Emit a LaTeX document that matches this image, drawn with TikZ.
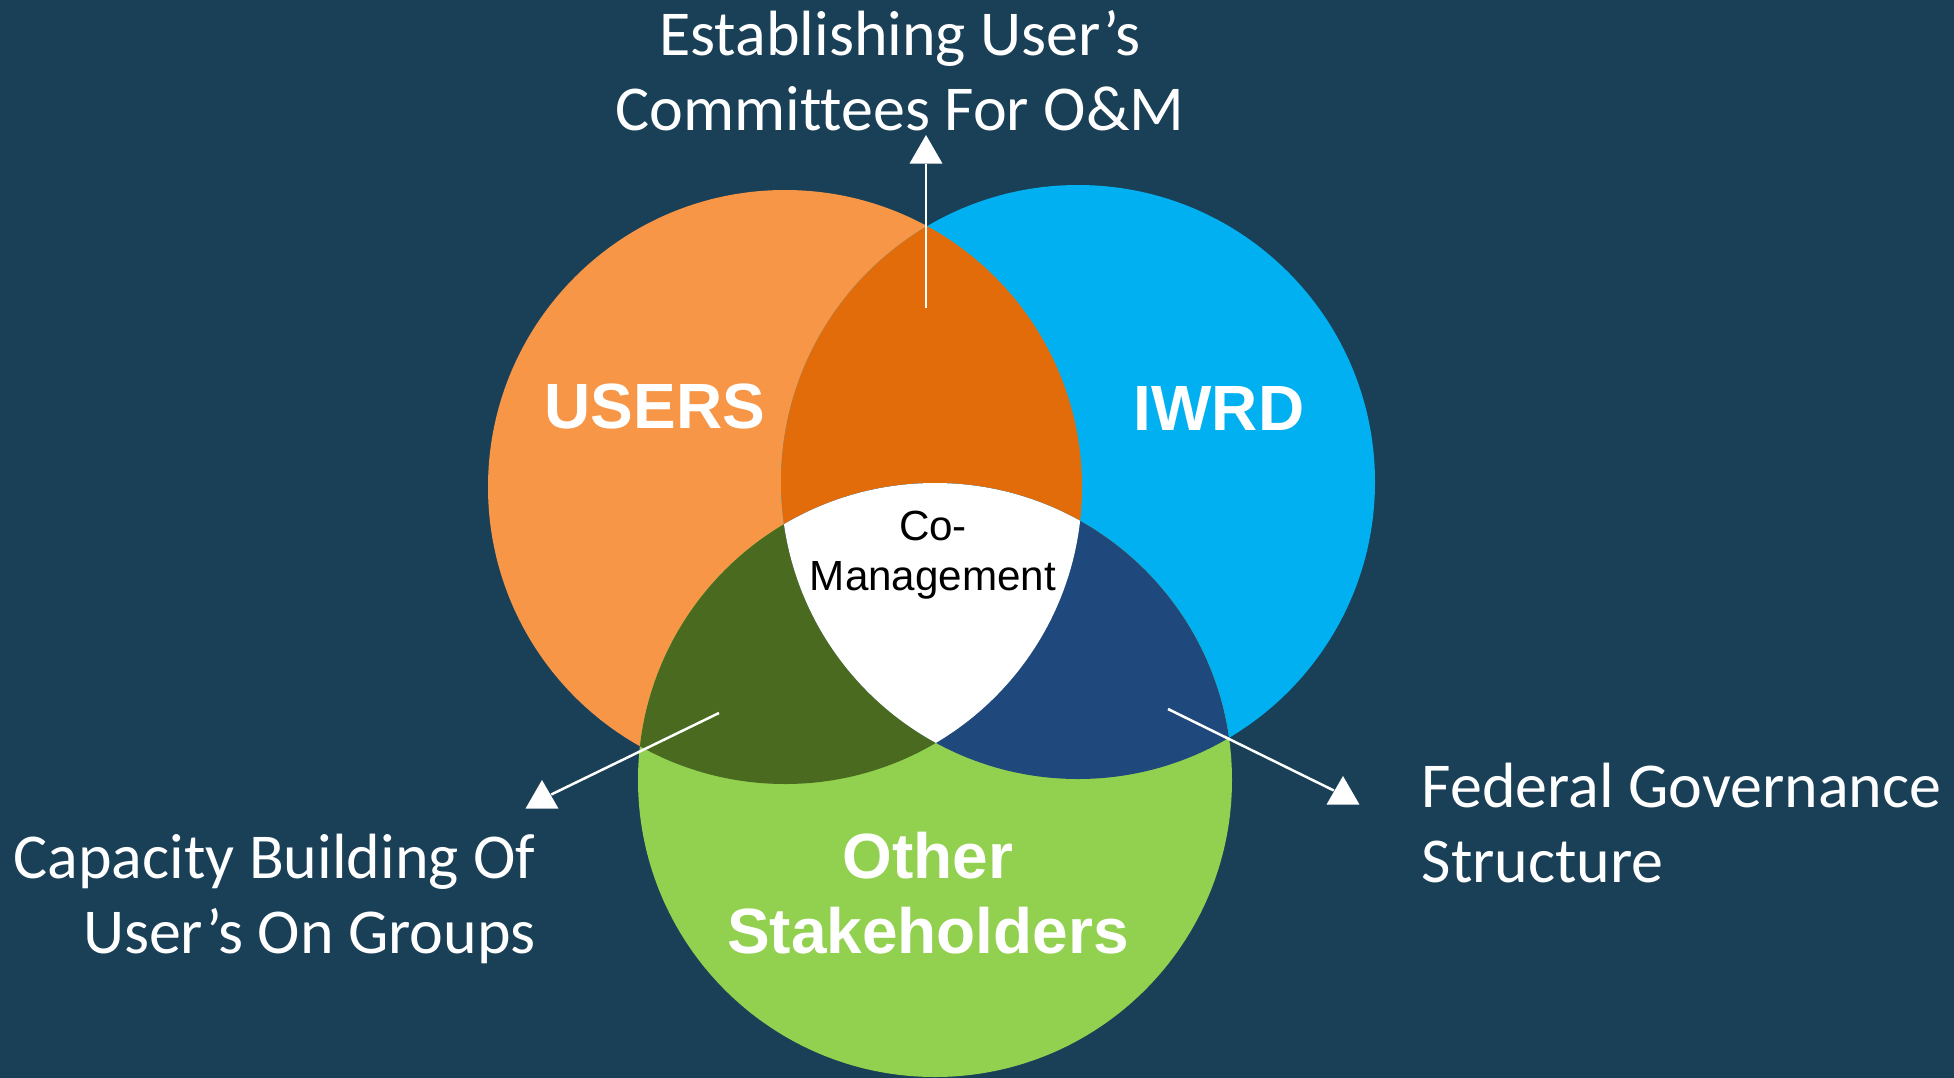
\documentclass[tikz,border=0pt]{standalone}
\usepackage{fontspec}
\setmainfont{Carlito}[Ligatures=NoCommon]
\setsansfont{Liberation Sans}
\usetikzlibrary{shapes.geometric}

\definecolor{slate}{HTML}{1A4057}
\definecolor{usersfill}{HTML}{F79646}
\definecolor{iwrdfill}{HTML}{00B0F0}
\definecolor{otherfill}{HTML}{92D050}
\definecolor{usersiwrd}{HTML}{E36C0A}
\definecolor{usersother}{HTML}{4A6B1F}
\definecolor{iwrdother}{HTML}{1F497D}

\begin{document}
\begin{tikzpicture}[inner sep=0pt,
  party/.style={font=\sffamily\bfseries\fontsize{18.2}{21.3}\selectfont, text=white, align=center},
  note/.style={font=\fontsize{18.2}{21.3}\selectfont, text=white},
  tip/.style={regular polygon, regular polygon sides=3, fill=white, minimum size=3.8mm},
  link/.style={white, line width=0.25mm}]
\def\u{0.1mm}
\def\r{297*\u}
\useasboundingbox (0, 0) rectangle (1954*\u, -1078*\u);
\fill[slate] (0, 0) rectangle (1954*\u, -1078*\u);

\coordinate (cu) at (785*\u, -487*\u);
\coordinate (ci) at (1078*\u, -482*\u);
\coordinate (co) at (935*\u, -780*\u);

\fill[usersfill] (cu) circle [radius=\r];
\fill[iwrdfill] (ci) circle [radius=\r];
\fill[otherfill] (co) circle [radius=\r];
\begin{scope}
  \clip (cu) circle [radius=\r];
  \fill[usersiwrd] (ci) circle [radius=\r];
  \fill[usersother] (co) circle [radius=\r];
\end{scope}
\begin{scope}
  \clip (ci) circle [radius=\r];
  \fill[iwrdother] (co) circle [radius=\r];
  \clip (cu) circle [radius=\r];
  \fill[white] (co) circle [radius=\r];
\end{scope}

% multi-line nodes sit on the baseline of their last line
\node[party, anchor=base] (users) at (655*\u, -428*\u) {USERS};
\node[party, anchor=base] (iwrd) at (1219*\u, -430*\u) {IWRD};
\node[party, anchor=base] (other) at (928*\u, -953*\u) {Other\\Stakeholders};
\node[font=\sffamily\fontsize{12}{14.2}\selectfont, align=center, anchor=base] (comgmt)
  at (933*\u, -590*\u) {Co-\\Management};

\node[note, align=center, anchor=base] (estab) at (900*\u, -130*\u)
  {Establishing User’s\\Committees For O\&M};
\node[note, align=right, anchor=base east] (capac) at (536*\u, -953*\u)
  {Capacity Building Of\\User’s On Groups};
\node[note, align=left, anchor=base west] (feder) at (1421*\u, -882*\u)
  {Federal Governance\\Structure};

\coordinate (estabfrom) at (926*\u, -308*\u);
\coordinate (capacfrom) at (719*\u, -713*\u);
\coordinate (federfrom) at (1168*\u, -709*\u);
\node[tip] (estabto) at (926*\u, -154*\u) {};
\node[tip] (capacto) at (542*\u, -799*\u) {};
\node[tip] (federto) at (1343*\u, -795*\u) {};

\draw[link] (estabfrom) -- (estabto);
\draw[link] (capacfrom) -- (capacto);
\draw[link] (federfrom) -- (federto);
\end{tikzpicture}
\end{document}
